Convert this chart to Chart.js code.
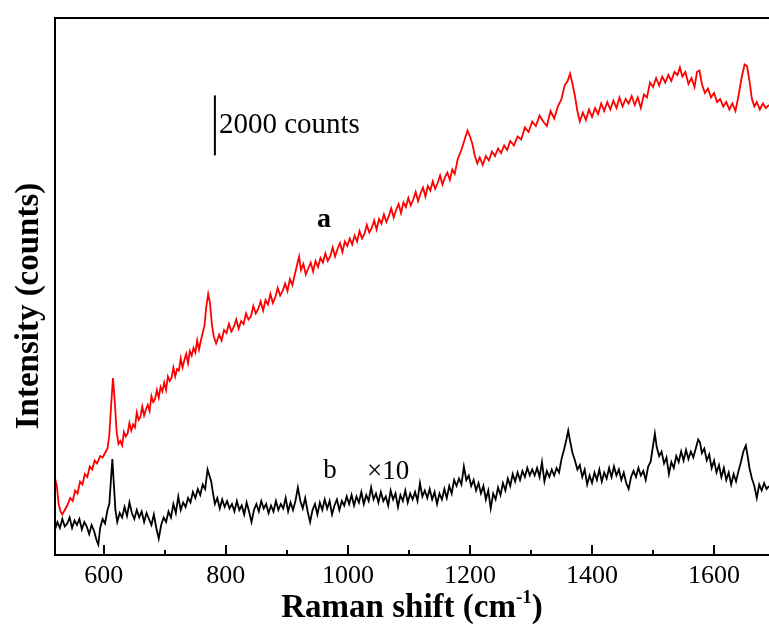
<!DOCTYPE html>
<html>
<head>
<meta charset="utf-8">
<script src="https://cdn.jsdelivr.net/npm/chart.js@4.4.1/dist/chart.umd.min.js"></script>
<style>
  html, body { margin: 0; padding: 0; background: #fff; }
  #wrap { width: 769px; height: 624px; }
</style>
</head>
<body>
<div id="wrap"><canvas id="raman" width="769" height="624"></canvas></div>
<script>
// Raman shift (cm-1) / intensity (counts)
const spectrumA = [
  [520, 2560], [523, 2300], [526, 1700], [529, 1450], [532, 1350], [536, 1500], [540, 1650], [545, 1900],
  [549, 1800], [553, 2150], [557, 2050], [561, 2450], [565, 2350], [569, 2700], [573, 2600], [577, 2950],
  [581, 2850], [585, 3150], [589, 3050], [594, 3300], [598, 3250], [602, 3400], [606, 3550], [609, 4000],
  [612, 5000], [615, 5900], [618, 5100], [621, 4100], [624, 3700], [627, 3800], [630, 3650], [633, 4100],
  [636, 3950], [639, 4050], [642, 4400], [645, 4150], [648, 4350], [651, 4250], [654, 4750], [657, 4500],
  [660, 4600], [663, 4950], [666, 4650], [669, 4850], [672, 5000], [675, 4800], [678, 5300], [681, 5100],
  [684, 5200], [687, 5500], [690, 5250], [693, 5600], [696, 5450], [699, 5750], [702, 5500], [705, 5950],
  [708, 5800], [711, 5900], [714, 6250], [717, 5950], [720, 6200], [723, 6150], [726, 6550], [729, 6250],
  [732, 6500], [735, 6700], [738, 6400], [741, 6800], [744, 6650], [747, 6900], [750, 6750], [753, 7150],
  [756, 6850], [759, 7150], [762, 7400], [765, 7650], [768, 8300], [771, 8700], [774, 8400], [777, 7700],
  [780, 7300], [784, 7050], [789, 7350], [793, 7150], [797, 7500], [801, 7400], [805, 7700], [809, 7450],
  [813, 7600], [817, 7850], [821, 7550], [825, 7800], [829, 7700], [833, 8050], [837, 7850], [841, 7950],
  [845, 8300], [849, 8050], [853, 8200], [857, 8450], [861, 8150], [865, 8500], [869, 8350], [873, 8700],
  [877, 8400], [881, 8600], [885, 8900], [889, 8650], [893, 8800], [897, 9050], [901, 8800], [905, 9200],
  [909, 9000], [913, 9350], [917, 9700], [920, 9950], [923, 9500], [927, 9700], [931, 9350], [935, 9550],
  [939, 9750], [943, 9450], [947, 9800], [951, 9600], [955, 9900], [959, 9750], [963, 10050], [967, 9800],
  [971, 9950], [975, 10250], [979, 9950], [983, 10200], [987, 10400], [991, 10100], [995, 10450], [999, 10300],
  [1003, 10550], [1007, 10350], [1011, 10650], [1015, 10450], [1019, 10800], [1023, 10550], [1027, 10700], [1031, 11000],
  [1035, 10750], [1039, 10900], [1043, 11150], [1047, 10850], [1051, 11200], [1055, 11050], [1059, 11350], [1063, 11100],
  [1067, 11300], [1071, 11550], [1075, 11250], [1079, 11500], [1083, 11700], [1087, 11400], [1091, 11750], [1095, 11600],
  [1099, 11900], [1103, 11650], [1107, 11850], [1111, 12100], [1115, 11800], [1119, 12050], [1123, 12250], [1127, 11950],
  [1131, 12300], [1135, 12150], [1139, 12450], [1143, 12200], [1147, 12400], [1151, 12650], [1155, 12350], [1159, 12600],
  [1163, 12750], [1167, 12500], [1171, 12850], [1175, 12700], [1180, 13200], [1186, 13500], [1192, 13900], [1196, 14150],
  [1200, 13950], [1204, 13700], [1208, 13300], [1212, 13050], [1216, 13250], [1221, 13000], [1226, 13300], [1231, 13150],
  [1236, 13450], [1241, 13300], [1246, 13550], [1251, 13400], [1256, 13650], [1261, 13500], [1266, 13800], [1272, 13650],
  [1278, 13950], [1284, 13850], [1290, 14250], [1296, 14100], [1302, 14450], [1308, 14300], [1314, 14650], [1320, 14450],
  [1326, 14300], [1332, 14800], [1338, 14550], [1344, 14950], [1350, 15200], [1355, 15650], [1360, 15800], [1364, 16050],
  [1368, 15700], [1372, 15300], [1376, 14800], [1380, 14450], [1385, 14750], [1390, 14500], [1395, 14850], [1400, 14600],
  [1405, 14900], [1410, 14700], [1415, 15050], [1420, 14800], [1425, 15100], [1430, 14850], [1435, 15150], [1440, 14900],
  [1445, 15250], [1450, 14950], [1455, 15200], [1460, 15050], [1465, 15300], [1470, 15000], [1475, 15250], [1480, 14900],
  [1485, 15350], [1490, 15250], [1495, 15750], [1500, 15600], [1505, 15900], [1510, 15650], [1515, 15950], [1520, 15750],
  [1525, 16000], [1530, 15800], [1535, 16100], [1540, 16000], [1544, 16250], [1548, 15950], [1553, 16100], [1558, 15700],
  [1563, 15900], [1568, 15600], [1572, 16100], [1576, 16150], [1580, 15700], [1585, 15400], [1590, 15550], [1595, 15250],
  [1600, 15400], [1605, 15100], [1610, 15200], [1615, 14950], [1620, 15100], [1625, 14850], [1630, 15050], [1635, 14800],
  [1640, 15300], [1645, 15900], [1650, 16350], [1654, 16300], [1658, 15800], [1662, 15200], [1666, 14950], [1670, 15100],
  [1675, 14850], [1680, 15050], [1685, 14900], [1690, 15000]
];

const spectrumB = [
  [520, 850], [524, 1100], [528, 900], [532, 1200], [536, 950], [540, 1050], [544, 1250], [548, 900],
  [552, 1150], [556, 1000], [560, 1200], [564, 850], [568, 1100], [572, 950], [576, 700], [580, 1000],
  [584, 800], [588, 500], [591, 350], [594, 900], [598, 1200], [602, 1050], [606, 1500], [609, 1700],
  [612, 2600], [614, 3200], [616, 2500], [619, 1500], [622, 1100], [626, 1400], [630, 1250], [634, 1600],
  [638, 1300], [642, 1750], [646, 1400], [650, 1200], [654, 1500], [658, 1250], [662, 1450], [666, 1100],
  [670, 1400], [674, 1200], [678, 1000], [682, 1350], [686, 900], [690, 550], [694, 1000], [698, 1250],
  [702, 1100], [706, 1450], [710, 1250], [714, 1700], [718, 1400], [722, 1950], [726, 1500], [730, 1750],
  [734, 1600], [738, 1900], [742, 1750], [746, 2100], [750, 1900], [754, 2200], [758, 2000], [762, 2350],
  [766, 2200], [770, 2850], [773, 2650], [776, 2450], [779, 2050], [782, 1700], [786, 1900], [790, 1550],
  [794, 1850], [798, 1600], [802, 1800], [806, 1550], [810, 1700], [814, 1450], [818, 1800], [822, 1500],
  [826, 1650], [830, 1350], [834, 1750], [838, 1450], [842, 1100], [846, 1500], [850, 1700], [854, 1450],
  [858, 1800], [862, 1550], [866, 1700], [870, 1400], [874, 1650], [878, 1450], [882, 1800], [886, 1500],
  [890, 1700], [894, 1550], [898, 1900], [902, 1450], [906, 1750], [910, 1500], [914, 1800], [918, 2250],
  [922, 1800], [926, 1550], [930, 1900], [934, 1450], [938, 1100], [942, 1500], [946, 1700], [950, 1350],
  [954, 1750], [958, 1500], [962, 1850], [966, 1550], [970, 1800], [974, 1350], [978, 1650], [982, 1850],
  [986, 1500], [990, 1800], [994, 1650], [998, 1950], [1002, 1700], [1006, 2000], [1010, 1650], [1014, 1950],
  [1018, 1750], [1022, 2100], [1026, 1700], [1030, 2000], [1034, 1800], [1038, 2250], [1042, 1850], [1046, 2050],
  [1050, 1750], [1054, 2100], [1058, 1800], [1062, 1950], [1066, 1650], [1070, 2150], [1074, 1850], [1078, 2050],
  [1082, 1600], [1086, 2000], [1090, 1800], [1094, 2150], [1098, 1750], [1102, 2050], [1106, 1850], [1110, 2100],
  [1114, 1800], [1118, 2400], [1122, 1950], [1126, 2150], [1130, 1900], [1134, 2200], [1138, 1850], [1142, 2100],
  [1146, 1700], [1150, 2050], [1154, 1850], [1158, 2200], [1162, 1900], [1166, 2300], [1170, 2050], [1174, 2500],
  [1178, 2300], [1182, 2550], [1186, 2350], [1190, 2950], [1194, 2500], [1198, 2650], [1202, 2300], [1206, 2500],
  [1210, 2150], [1214, 2400], [1218, 2050], [1222, 2300], [1226, 1850], [1230, 2150], [1234, 1550], [1238, 2050],
  [1242, 1850], [1246, 2250], [1250, 2000], [1254, 2400], [1258, 2150], [1262, 2550], [1266, 2300], [1270, 2700],
  [1274, 2450], [1278, 2750], [1282, 2500], [1286, 2800], [1290, 2600], [1294, 2900], [1298, 2650], [1302, 2850],
  [1306, 2650], [1310, 2900], [1314, 2600], [1318, 3100], [1322, 2450], [1326, 2800], [1330, 2600], [1334, 2850],
  [1338, 2650], [1342, 2900], [1346, 2750], [1350, 3200], [1354, 3500], [1358, 3850], [1361, 4150], [1364, 3800],
  [1368, 3400], [1372, 3150], [1376, 2850], [1380, 3000], [1384, 2600], [1388, 2850], [1392, 2350], [1396, 2650],
  [1400, 2400], [1404, 2750], [1408, 2500], [1412, 2850], [1416, 2450], [1420, 2750], [1424, 2550], [1428, 2900],
  [1432, 2600], [1436, 2950], [1440, 2650], [1444, 2850], [1448, 2500], [1452, 2750], [1456, 2400], [1460, 2200],
  [1464, 2600], [1468, 2800], [1472, 2600], [1476, 2900], [1480, 2650], [1484, 2800], [1488, 2500], [1492, 2950],
  [1496, 3100], [1500, 3650], [1503, 4050], [1506, 3600], [1510, 3300], [1514, 3450], [1518, 3050], [1522, 3250],
  [1526, 2700], [1530, 3100], [1534, 2900], [1538, 3300], [1542, 3100], [1546, 3450], [1550, 3150], [1554, 3500],
  [1558, 3200], [1562, 3450], [1566, 3250], [1570, 3550], [1574, 3850], [1577, 3750], [1580, 3400], [1584, 3550],
  [1588, 3150], [1592, 3350], [1596, 2900], [1600, 3150], [1604, 2750], [1608, 3000], [1612, 2600], [1616, 2900],
  [1620, 2500], [1624, 2750], [1628, 2350], [1632, 2700], [1636, 2450], [1640, 2800], [1644, 3100], [1648, 3450],
  [1652, 3650], [1655, 3300], [1658, 2900], [1662, 2550], [1666, 2300], [1670, 1900], [1674, 2350], [1678, 2150],
  [1682, 2400], [1686, 2200], [1690, 2300]
];

const majorTicks = [600, 800, 1000, 1200, 1400, 1600];
const minorTicks = [700, 900, 1100, 1300, 1500];
const scaleBar = { shift: 782, from: 13320, to: 15320, label: "2000 counts" };

const serif = "'Liberation Serif', 'Times New Roman', serif";

const decorations = {
  id: "decorations",
  afterDraw(chart) {
    const { ctx, chartArea: area, scales } = chart;
    const x = scales.x;
    const y = scales.y;
    ctx.save();
    ctx.strokeStyle = "#000";
    ctx.fillStyle = "#000";

    // frame: left and top
    ctx.lineWidth = 2;
    ctx.beginPath();
    ctx.moveTo(area.left, area.bottom);
    ctx.lineTo(area.left, area.top);
    ctx.lineTo(area.right, area.top);
    ctx.stroke();

    // inward ticks on the bottom axis
    majorTicks.forEach((v) => {
      const px = Math.round(x.getPixelForValue(v));
      ctx.beginPath();
      ctx.moveTo(px, area.bottom);
      ctx.lineTo(px, area.bottom - 10);
      ctx.stroke();
    });
    minorTicks.forEach((v) => {
      const px = Math.round(x.getPixelForValue(v));
      ctx.beginPath();
      ctx.moveTo(px, area.bottom);
      ctx.lineTo(px, area.bottom - 5);
      ctx.stroke();
    });

    // 2000 counts scale bar
    const bx = x.getPixelForValue(scaleBar.shift);
    ctx.beginPath();
    ctx.moveTo(bx, y.getPixelForValue(scaleBar.from));
    ctx.lineTo(bx, y.getPixelForValue(scaleBar.to));
    ctx.stroke();
    ctx.font = `29px ${serif}`;
    ctx.textAlign = "left";
    ctx.textBaseline = "middle";
    ctx.fillText(scaleBar.label, bx + 4, (y.getPixelForValue(scaleBar.from) + y.getPixelForValue(scaleBar.to)) / 2);

    // curve labels
    ctx.font = `bold 28px ${serif}`;
    ctx.textAlign = "center";
    ctx.fillText("a", 324, 220);
    ctx.font = `27px ${serif}`;
    ctx.fillText("b", 330, 471);
    ctx.textAlign = "left";
    ctx.fillText("\u00d710", 367, 472);

    // x axis title with superscript
    ctx.textBaseline = "alphabetic";
    const main = "Raman shift (cm";
    const sup = "-1";
    const tail = ")";
    ctx.font = `bold 33px ${serif}`;
    const wMain = ctx.measureText(main).width;
    const wTail = ctx.measureText(tail).width;
    ctx.font = `bold 19px ${serif}`;
    const wSup = ctx.measureText(sup).width;
    const total = wMain + wSup + wTail;
    const tx = (area.left + area.right) / 2 - total / 2;
    const ty = 617;
    ctx.font = `bold 33px ${serif}`;
    ctx.fillText(main, tx, ty);
    ctx.font = `bold 19px ${serif}`;
    ctx.fillText(sup, tx + wMain, ty - 14);
    ctx.font = `bold 33px ${serif}`;
    ctx.fillText(tail, tx + wMain + wSup, ty);

    // y axis title
    ctx.translate(38, 306);
    ctx.rotate(-Math.PI / 2);
    ctx.textAlign = "center";
    ctx.fillText("Intensity (counts)", 0, 0);
    ctx.restore();
  },
};

new Chart(document.getElementById("raman"), {
  type: "line",
  data: {
    datasets: [
      {
        label: "a",
        data: spectrumA.map(([x, y]) => ({ x, y })),
        borderColor: "#ff0000",
        borderWidth: 1.8,
        pointRadius: 0,
        tension: 0,
      },
      {
        label: "b \u00d710",
        data: spectrumB.map(([x, y]) => ({ x, y })),
        borderColor: "#000000",
        borderWidth: 1.8,
        pointRadius: 0,
        tension: 0,
      },
    ],
  },
  options: {
    responsive: false,
    animation: false,
    layout: { padding: { left: 55, top: 18, right: 0, bottom: 0 } },
    plugins: {
      legend: { display: false },
      tooltip: { enabled: false },
    },
    scales: {
      x: {
        type: "linear",
        min: 520,
        max: 1690,
        afterBuildTicks: (scale) => {
          scale.ticks = majorTicks.map((value) => ({ value }));
        },
        afterFit: (scale) => {
          scale.height = 69;
        },
        grid: { display: false, drawTicks: false },
        border: { display: true, color: "#000", width: 2 },
        ticks: {
          color: "#000",
          padding: 6,
          maxRotation: 0,
          font: { family: serif, size: 26 },
          callback: (value) => String(value),
        },
      },
      y: {
        display: false,
        min: 0,
        max: 17900,
      },
    },
  },
  plugins: [decorations],
});
</script>
</body>
</html>
